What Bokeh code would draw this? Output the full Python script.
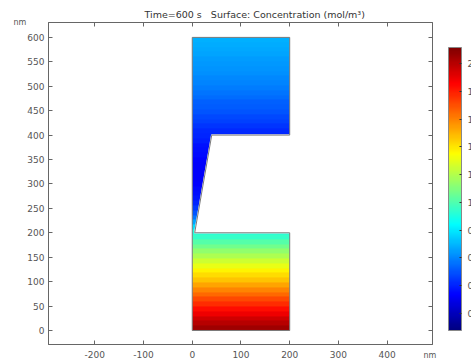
import numpy as np
from bokeh.plotting import figure
from bokeh.models import (LinearColorMapper, ColorBar, FixedTicker,
                          LinearAxis, CustomJSTickFormatter)
from bokeh.embed import file_html
from bokeh.resources import INLINE

# ---- data ----
y_levels = [0, 10, 20, 30, 40, 50, 60, 70, 80, 90,
            100, 110, 120, 130, 140, 150, 160, 170, 180, 190,
            200, 210, 220, 230, 240, 250, 260, 270, 280, 290,
            300, 310, 320, 330, 340, 350, 360, 370, 380, 390,
            400, 410, 420, 430, 440, 450, 460, 470, 480, 490,
            500, 510, 520, 530, 540, 550, 560, 570, 580, 590, 600]
conc = [2.05, 2.00, 1.95, 1.89, 1.83, 1.77, 1.71, 1.65, 1.59, 1.53,
        1.47, 1.42, 1.37, 1.31, 1.25, 1.19, 1.13, 1.07, 1.01, 0.95,
        0.90, 0.78, 0.66, 0.57, 0.50, 0.45, 0.41, 0.38, 0.36, 0.35,
        0.34, 0.33, 0.33, 0.33, 0.33, 0.34, 0.35, 0.36, 0.37, 0.39,
        0.41, 0.42, 0.44, 0.46, 0.48, 0.50, 0.52, 0.53, 0.55, 0.57,
        0.58, 0.60, 0.61, 0.62, 0.63, 0.64, 0.65, 0.66, 0.67, 0.68, 0.69]
shape_x = [0, 200, 200, 5, 40, 200, 200, 0]
shape_y = [0, 0, 200, 200, 400, 400, 600, 600]
notch_x = [5, 200, 200, 40]
notch_y = [200, 200, 400, 400]
x_ticks = [-200, -100, 0, 100, 200, 300, 400]
y_ticks = [0, 50, 100, 150, 200, 250, 300, 350, 400, 450, 500, 550, 600]
cbar_ticks = [0.2, 0.4, 0.6, 0.8, 1.0, 1.2, 1.4, 1.6, 1.8, 2.0]
c_low, c_high = 0.078, 2.115
title_text = "Time=600 s\u00a0\u00a0\u00a0Surface: Concentration (mol/m\u00b3)"
unit_label = "nm"

# ---- jet-like rainbow palette ----
def _cl(v):
    return min(1.0, max(0.0, v))
jet = []
for i in range(256):
    t = i / 255.0
    r = _cl(1.5 - abs(4 * t - 3))
    g = _cl(1.5 - abs(4 * t - 2))
    b = _cl(1.5 - abs(4 * t - 1))
    jet.append("#%02x%02x%02x" % (int(r * 255), int(g * 255), int(b * 255)))

FONT = "DejaVu Sans"
AX = "#666666"
TXT = "#555555"

p = figure(frame_width=384, frame_height=322,
           x_range=(-295, 493), y_range=(-28.7, 630.5),
           output_backend="svg", toolbar_location=None,
           x_axis_location=None, y_axis_location=None,
           min_border_left=48, min_border_right=10,
           min_border_top=22, min_border_bottom=17)
p.grid.visible = False
p.outline_line_color = AX
p.background_fill_color = "white"
p.border_fill_color = "white"

mapper = LinearColorMapper(palette=jet, low=c_low, high=c_high)
field = np.array(conc, dtype=float).reshape(len(conc), 1)
p.image(image=[field], x=shape_x[0], y=shape_y[0],
        dw=shape_x[1] - shape_x[0], dh=shape_y[-1] - shape_y[0],
        color_mapper=mapper)
p.patch(notch_x, notch_y, fill_color="white", line_color="white", line_width=1.5)
p.patch(shape_x, shape_y, fill_color=None, line_color="#7a7a7a", line_width=1)

plain = CustomJSTickFormatter(code="return String(tick)")

def mk_axis(ticks, labels):
    ax = LinearAxis(ticker=FixedTicker(ticks=ticks))
    ax.major_tick_in = 4
    ax.major_tick_out = 0
    ax.minor_tick_line_color = None
    ax.axis_line_color = AX
    ax.major_tick_line_color = AX
    ax.major_label_text_font = FONT
    ax.major_label_text_color = TXT
    if labels:
        ax.formatter = plain
        ax.major_label_text_font_size = "9px"
    else:
        ax.formatter = CustomJSTickFormatter(code="return ''")
        ax.major_label_text_font_size = "0px"
        ax.major_label_standoff = 0
    return ax

xb = mk_axis(x_ticks, True)
xb.major_label_standoff = 6
yl = mk_axis(y_ticks, True)
yl.major_label_standoff = 4
for ax in (xb, yl):
    ax.axis_label_text_font = FONT
    ax.axis_label_text_font_size = "8px"
    ax.axis_label_text_font_style = "normal"
    ax.axis_label_text_color = TXT
    ax.axis_label_align = "end"
xb.axis_label = unit_label + "\u00a0\u00a0"
yl.axis_label = unit_label
xb.axis_label_standoff = -10
yl.axis_label_standoff = -2
yl.axis_label_orientation = "horizontal"

p.add_layout(xb, "below")
p.add_layout(yl, "left")
p.add_layout(mk_axis(x_ticks, False), "above")
p.add_layout(mk_axis(y_ticks, False), "right")

p.title.text = title_text
p.title.text_font = FONT
p.title.text_font_size = "9.5px"
p.title.text_font_style = "normal"
p.title.text_color = "#333333"
p.title.align = "left"
p.title.offset = 96
p.title.standoff = 6

cb = ColorBar(color_mapper=mapper, ticker=FixedTicker(ticks=cbar_ticks),
              formatter=CustomJSTickFormatter(code="return String(Math.round(tick*10)/10)"),
              width=13, height=283, location=(16, 14), padding=0, margin=0,
              label_standoff=6, major_label_text_font_size="9px",
              major_label_text_font=FONT, major_label_text_color=TXT,
              major_tick_in=2, major_tick_line_color="#333333",
              minor_tick_line_color=None,
              bar_line_color="#888888", background_fill_color=None,
              border_line_color=None)
p.add_layout(cb, "right")

open("out.html", "w").write(file_html(p, INLINE))
